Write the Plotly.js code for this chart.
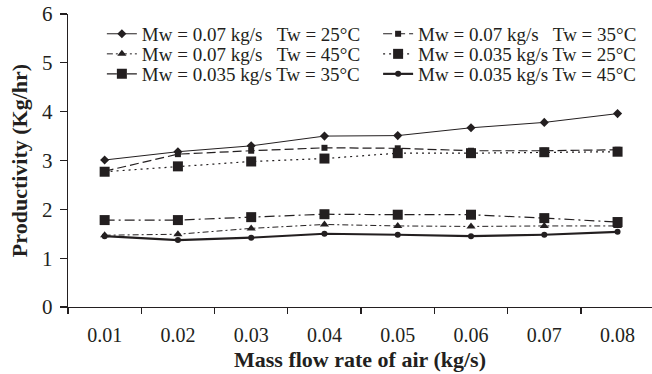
<!DOCTYPE html>
<html>
<head>
<meta charset="utf-8">
<script src="https://cdn.plot.ly/plotly-3.0.1.min.js"></script>
<style>html,body{margin:0;padding:0;background:#fff;}#chart{width:652px;height:374px;}</style>
</head>
<body>
<div id="chart"></div>
<script>
const categories = ["0.01","0.02","0.03","0.04","0.05","0.06","0.07","0.08"];
const seriesNames = [
  "Mw = 0.07 kg/s \u2002Tw = 25°C",
  "Mw = 0.07 kg/s \u2002Tw = 35°C",
  "Mw = 0.07 kg/s \u2002Tw = 45°C",
  "Mw = 0.035 kg/s Tw = 25°C",
  "Mw = 0.035 kg/s Tw = 35°C",
  "Mw = 0.035 kg/s Tw = 45°C"
];
const mw007_tw25  = [3.01, 3.18, 3.30, 3.50, 3.51, 3.67, 3.78, 3.96];
const mw007_tw35  = [2.78, 3.13, 3.20, 3.26, 3.25, 3.20, 3.20, 3.22];
const mw007_tw45  = [1.47, 1.49, 1.61, 1.69, 1.66, 1.65, 1.66, 1.66];
const mw0035_tw25 = [2.77, 2.88, 2.98, 3.04, 3.15, 3.15, 3.17, 3.18];
const mw0035_tw35 = [1.78, 1.78, 1.84, 1.90, 1.89, 1.89, 1.82, 1.74];
const mw0035_tw45 = [1.45, 1.37, 1.42, 1.50, 1.48, 1.45, 1.48, 1.54];

const ink = '#231f20';
const serif = 'Liberation Serif, Times New Roman, serif';

const styles = [
  {dash:'solid', w:1, sym:'diamond', size:7},
  {dash:'9px,4px', w:1.2, sym:'square', size:6},
  {dash:'6px,3px,2px,3px', w:1, sym:'triangle-up', size:8},
  {dash:'2px,4px', w:1.2, sym:'square', size:10},
  {dash:'10px,4px,2px,4px', w:1.2, sym:'square', size:10},
  {dash:'solid', w:2.2, sym:'circle', size:6}
];
const values = [mw007_tw25, mw007_tw35, mw007_tw45, mw0035_tw25, mw0035_tw35, mw0035_tw45];
const legendIds = ['legend', 'legend2', 'legend3', 'legend4', 'legend5', 'legend6'];

const traces = values.map((v, i) => ({
  type: 'scatter', mode: 'lines+markers',
  x: categories, y: v, name: seriesNames[i], legend: legendIds[i],
  line: {color: ink, width: styles[i].w, dash: styles[i].dash},
  marker: {color: ink, symbol: styles[i].sym, size: styles[i].size, line: {width: 0}}
}));

// legend entry placement (paper coords), two columns x three rows
const colX = [0.058, 0.531];
const rowY = [0.932, 0.8635, 0.7952];
function legendBox(i) {
  return {
    orientation: 'v', x: colX[i % 2], xanchor: 'left',
    y: rowY[Math.floor(i / 2)], yanchor: 'middle',
    font: {family: serif, size: 19, color: ink},
    bgcolor: 'rgba(0,0,0,0)', borderwidth: 0
  };
}

const layout = {
  width: 652, height: 374,
  margin: {l: 68, r: 0, t: 14, b: 67},
  paper_bgcolor: '#fff', plot_bgcolor: '#fff',
  font: {family: serif, color: ink, size: 20},
  showlegend: true,
  xaxis: {
    type: 'category', range: [-0.5, 7.47],
    showline: true, linecolor: ink, linewidth: 1.3,
    ticks: 'outside', ticklen: 6, tickcolor: ink, tickwidth: 1.3,
    tickson: 'boundaries', showgrid: false, zeroline: false,
    ticklabelstandoff: 10,
    tickfont: {family: serif, size: 20, color: ink},
    title: {text: 'Mass flow rate of air (kg/s)', font: {family: serif, size: 22, color: ink, weight: 'bold'}, standoff: 6}
  },
  yaxis: {
    range: [0, 6], dtick: 1,
    showline: true, linecolor: ink, linewidth: 1.3,
    ticks: 'outside', ticklen: 7, tickcolor: ink, tickwidth: 1.3,
    showgrid: false, zeroline: false,
    ticklabelstandoff: 3,
    tickfont: {family: serif, size: 21, color: ink},
    title: {text: 'Productivity (Kg/hr)', font: {family: serif, size: 22, color: ink, weight: 'bold'}, standoff: 8}
  }
};
legendIds.forEach((id, i) => { layout[id] = legendBox(i); });

Plotly.newPlot('chart', traces, layout, {displayModeBar: false, staticPlot: true});
</script>
</body>
</html>
